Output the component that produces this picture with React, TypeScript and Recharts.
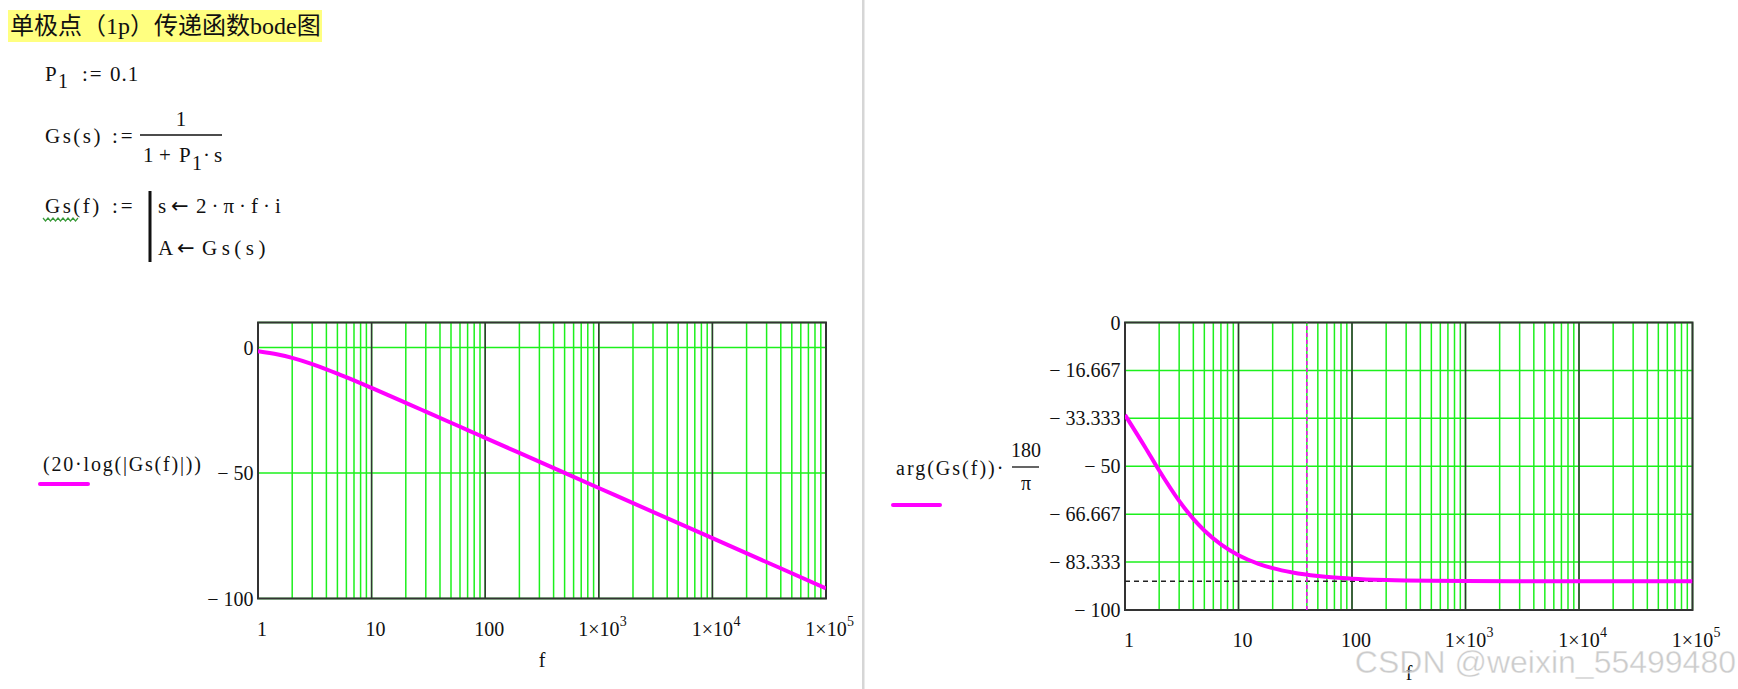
import React from 'react';
import { LineChart, Line, XAxis, YAxis, CartesianGrid, ReferenceLine, ReferenceArea } from 'recharts';

// ---- data ----
const freqs = [1, 1.5, 2, 3, 4, 5, 7, 10, 15, 20, 30, 50, 70, 100, 200, 500, 1000, 10000, 100000];
const magDb = [-1.45, -2.76, -4.11, -6.58, -8.64, -10.36, -13.08, -16.07, -19.53, -22.01, -25.52, -29.95, -32.87, -35.96, -41.98, -49.94, -55.96, -75.96, -95.96];
const phaseDeg = [-32.14, -43.3, -51.49, -62.05, -68.3, -72.34, -77.19, -80.96, -83.94, -85.45, -86.96, -88.18, -88.7, -89.09, -89.54, -89.82, -89.91, -89.99, -90.0];

const gridFreqs = [
  1, 2, 3, 4, 5, 6, 7, 8, 9,
  10, 20, 30, 40, 50, 60, 70, 80, 90,
  100, 200, 300, 400, 500, 600, 700, 800, 900,
  1000, 2000, 3000, 4000, 5000, 6000, 7000, 8000, 9000,
  10000, 20000, 30000, 40000, 50000, 60000, 70000, 80000, 90000,
  100000,
];
const decadeFreqs = [10, 100, 1000, 10000];
const xLabelValues = [1, 10, 100, 1000, 10000, 100000];
const xLabelMain = ['1', '10', '100', '1×10', '1×10', '1×10'];
const xLabelExp = ['', '', '', '3', '4', '5'];

const magTicks = [0, -50, -100];
const magTickLabels = ['0', '\u2212 50', '\u2212 100'];
const phaseTicks = [0, -16.667, -33.333, -50, -66.667, -83.333, -100];
const phaseTickLabels = ['0', '\u2212 16.667', '\u2212 33.333', '\u2212 50', '\u2212 66.667', '\u2212 83.333', '\u2212 100'];
const cursorFreq = 40;
const asymptoteDeg = -90;

const magData = freqs.map((f, i) => ({ f, v: magDb[i] }));
const phaseData = freqs.map((f, i) => ({ f, v: phaseDeg[i] }));

const FONT = "'Liberation Serif', 'Times New Roman', serif";
const ARROW_FONT = "'DejaVu Sans', sans-serif";
const TXT = '#111';
const GREEN = '#1cf01c';
const MAGENTA = '#ff00ff';
const FRAME = '#333';

function XTick(props: any) {
  const { x, y, payload } = props;
  const i = xLabelValues.indexOf(payload.value);
  if (i < 0) return <g />;
  const main = xLabelMain[i];
  const exp = xLabelExp[i];
  if (!exp) {
    return (
      <text x={x + 4} y={y + 37} textAnchor="middle" fontFamily={FONT} fontSize={20} fill={TXT}>
        {main}
      </text>
    );
  }
  return (
    <g>
      <text x={x} y={y + 37} textAnchor="middle" fontFamily={FONT} fontSize={20} fill={TXT}>
        {main}
      </text>
      <text x={x + 21} y={y + 27} textAnchor="start" fontFamily={FONT} fontSize={14} fill={TXT}>
        {exp}
      </text>
    </g>
  );
}

function makeYTick(ticks: number[], labels: string[]) {
  return (props: any) => {
    const { x, y, payload } = props;
    const i = ticks.indexOf(payload.value);
    if (i < 0) return <g />;
    return (
      <text x={x - 4.5} y={y} dy="0.35em" textAnchor="end" fontFamily={FONT} fontSize={20} fill={TXT}>
        {labels[i]}
      </text>
    );
  };
}

const YTickMag = makeYTick(magTicks, magTickLabels);
const YTickPhase = makeYTick(phaseTicks, phaseTickLabels);

function MagChart() {
  return (
    <LineChart width={730} height={389} data={magData} margin={{ top: 22.5, right: 54, bottom: 20.5, left: 0 }}>
      <CartesianGrid stroke={GREEN} strokeWidth={1.5} />
      <XAxis
        dataKey="f"
        type="number"
        scale="log"
        domain={[1, 100000]}
        ticks={gridFreqs}
        interval={0}
        tick={(p: any) => <XTick {...p} />}
        tickLine={false}
        axisLine={false}
        tickSize={0}
        tickMargin={0}
        height={70}
        allowDataOverflow
      />
      <YAxis
        type="number"
        domain={[-100, 10]}
        ticks={magTicks}
        interval={0}
        tick={(p: any) => <YTickMag {...p} />}
        width={108}
        tickLine={false}
        axisLine={false}
        tickSize={0}
        tickMargin={0}
        allowDataOverflow
      />
      {decadeFreqs.map((d) => (
        <ReferenceLine key={d} x={d} stroke={FRAME} strokeWidth={1.5} />
      ))}
      <ReferenceArea x1={1} x2={100000} y1={-100} y2={10} fill="none" fillOpacity={0} stroke={FRAME} strokeWidth={2} />
      <Line dataKey="v" type="monotone" stroke={MAGENTA} strokeWidth={4} dot={false} isAnimationActive={false} />
    </LineChart>
  );
}

function PhaseChart() {
  return (
    <LineChart width={738} height={389} data={phaseData} margin={{ top: 22.5, right: 45.5, bottom: 19, left: 0 }}>
      <CartesianGrid stroke={GREEN} strokeWidth={1.5} />
      <XAxis
        dataKey="f"
        type="number"
        scale="log"
        domain={[1, 100000]}
        ticks={gridFreqs}
        interval={0}
        tick={(p: any) => <XTick {...p} />}
        tickLine={false}
        axisLine={false}
        tickSize={0}
        tickMargin={0}
        height={60}
        allowDataOverflow
      />
      <YAxis
        type="number"
        domain={[-100, 0]}
        ticks={phaseTicks}
        interval={0}
        tick={(p: any) => <YTickPhase {...p} />}
        width={125}
        tickLine={false}
        axisLine={false}
        tickSize={0}
        tickMargin={0}
        allowDataOverflow
      />
      {decadeFreqs.map((d) => (
        <ReferenceLine key={d} x={d} stroke={FRAME} strokeWidth={1.5} />
      ))}
      <ReferenceLine y={asymptoteDeg} stroke="#222" strokeWidth={1.5} strokeDasharray="5 4" />
      <ReferenceLine x={cursorFreq} stroke={MAGENTA} strokeWidth={1.5} strokeDasharray="4 3" />
      <ReferenceArea x1={1} x2={100000} y1={-100} y2={0} fill="none" fillOpacity={0} stroke={FRAME} strokeWidth={2} />
      <Line dataKey="v" type="monotone" stroke={MAGENTA} strokeWidth={4} dot={false} isAnimationActive={false} />
    </LineChart>
  );
}

function Overlay() {
  const t = { fontFamily: FONT, fontSize: 21, fill: TXT } as const;
  const a = { fontFamily: ARROW_FONT, fontSize: 21, fill: TXT } as const;
  const wave: string[] = [];
  for (let i = 0; i <= 14; i++) {
    wave.push(`${43 + i * 2.5},${i % 2 === 0 ? 218 : 221}`);
  }
  return (
    <svg width={1738} height={689} style={{ position: 'absolute', left: 0, top: 0 }}>
      {/* title */}
      <rect x={8} y={10} width={314} height={32} fill="#ffff80" />
      <text x={10} y={34} fontFamily="'Liberation Serif', 'Noto Sans CJK SC', serif" fontSize={24} fill={TXT}>
        单极点（1p）传递函数bode图
      </text>

      {/* P1 := 0.1 */}
      <text x={45} y={81} {...t}>P</text>
      <text x={58} y={88} {...t} fontSize={20}>1</text>
      <text x={82} y={81} {...t} letterSpacing={2}>:=</text>
      <text x={110} y={81} {...t} letterSpacing={1}>0.1</text>

      {/* Gs(s) := 1/(1+P1 s) */}
      <text x={45} y={143} {...t} letterSpacing={2.5}>Gs(s)</text>
      <text x={112} y={143} {...t} letterSpacing={3}>:=</text>
      <text x={181} y={126} {...t} textAnchor="middle">1</text>
      <line x1={140} y1={135} x2={222} y2={135} stroke={TXT} strokeWidth={1.5} />
      <text x={143} y={162} {...t}>1</text>
      <text x={159} y={162} {...t}>+</text>
      <text x={179} y={162} {...t}>P</text>
      <text x={192} y={170} {...t} fontSize={20}>1</text>
      <text x={203} y={162} {...t} letterSpacing={4}>·s</text>

      {/* Gs(f) := program */}
      <text x={45} y={213} {...t} letterSpacing={2.5}>Gs(f)</text>
      <polyline points={wave.join(' ')} fill="none" stroke="#3a9a3a" strokeWidth={1.2} />
      <text x={112} y={213} {...t} letterSpacing={3}>:=</text>
      <rect x={148.5} y={191} width={3} height={71} fill={TXT} />
      <text x={158} y={213} {...t}>s</text>
      <text x={171} y={213} {...a}>←</text>
      <text x={196} y={213} {...t} letterSpacing={5}>2·π·f·i</text>
      <text x={158} y={255} {...t}>A</text>
      <text x={177} y={255} {...a}>←</text>
      <text x={202} y={255} {...t} letterSpacing={4.5}>Gs(s)</text>

      {/* left legend */}
      <text x={43} y={471} fontFamily={FONT} fontSize={20} fill={TXT} letterSpacing={1.8}>(20·log(|Gs(f)|))</text>
      <line x1={40} y1={484} x2={88} y2={484} stroke={MAGENTA} strokeWidth={4} strokeLinecap="round" />

      {/* divider */}
      <rect x={862} y={0} width={2.5} height={689} fill="#d6d6d6" />

      {/* right legend */}
      <text x={896} y={475} fontFamily={FONT} fontSize={20} fill={TXT} letterSpacing={2}>arg(Gs(f))·</text>
      <text x={1026} y={457} fontFamily={FONT} fontSize={20} fill={TXT} textAnchor="middle">180</text>
      <line x1={1012} y1={467} x2={1039} y2={467} stroke={TXT} strokeWidth={1.3} />
      <text x={1026} y={490} fontFamily={FONT} fontSize={20} fill={TXT} textAnchor="middle">π</text>
      <line x1={893} y1={505} x2={940} y2={505} stroke={MAGENTA} strokeWidth={4} strokeLinecap="round" />

      {/* axis titles */}
      <text x={542} y={667} fontFamily={FONT} fontSize={20} fill={TXT} textAnchor="middle">f</text>
      <text x={1409} y={680} fontFamily={FONT} fontSize={20} fill={TXT} textAnchor="middle">f</text>
    </svg>
  );
}

function Watermark() {
  return (
    <svg width={1738} height={689} style={{ position: 'absolute', left: 0, top: 0, pointerEvents: 'none' }}>
      <text
        x={1736}
        y={673}
        textAnchor="end"
        fontFamily="'Liberation Sans', Arial, sans-serif"
        fontSize={32}
        fill="#b4b4b4"
        fillOpacity={0.7}
        stroke="#ffffff"
        strokeOpacity={0.6}
        strokeWidth={0.8}
      >
        CSDN @weixin_55499480
      </text>
    </svg>
  );
}

export default function App() {
  return (
    <div style={{ position: 'absolute', left: 0, top: 0, width: 1738, height: 689, background: '#fff', overflow: 'hidden' }}>
      <Overlay />
      <div style={{ position: 'absolute', left: 150, top: 300 }}>
        <MagChart />
      </div>
      <div style={{ position: 'absolute', left: 1000, top: 300 }}>
        <PhaseChart />
      </div>
      <Watermark />
    </div>
  );
}
